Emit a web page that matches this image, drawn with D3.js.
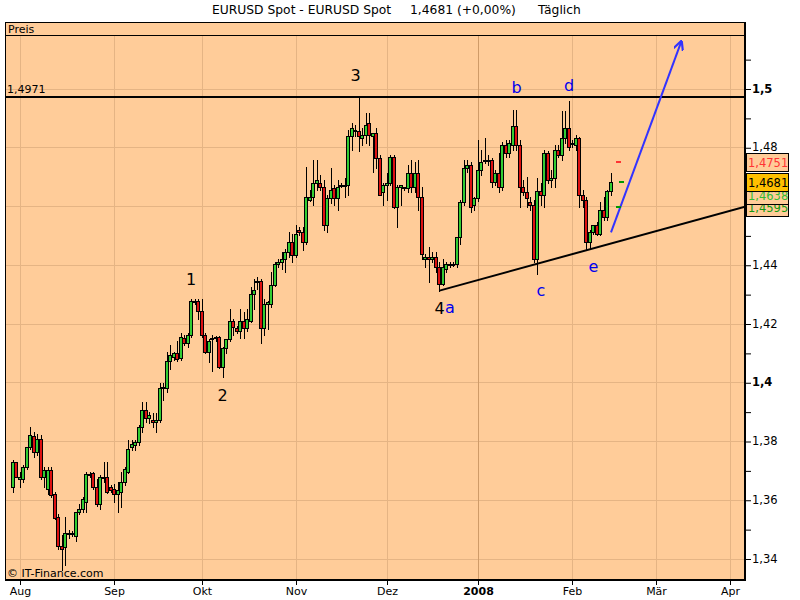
<!DOCTYPE html>
<html><head><meta charset="utf-8">
<script src="https://cdn.jsdelivr.net/npm/d3@7"></script>
<style>body{margin:0;background:#fff}text{font-family:"DejaVu Sans",sans-serif}</style>
</head><body><svg id="c" width="800" height="600"></svg>
<script>
// ---------- data ----------
const firstSession = "2007-07-30";
const sundaySessionsUntil = "2008-02-17";
const lastSession = "2008-04-30";
const xDomain = [-2.143, 209.286];
const openP = [
1.3642,1.3727,1.3672,1.3672,1.3710,1.3781,1.3818,1.3764,1.3808,1.3676,
1.3635,1.3700,1.3618,1.3540,1.3441,1.3438,1.3486,1.3482,1.3475,1.3557,
1.3570,1.3591,1.3683,1.3690,1.3645,1.3584,1.3679,1.3679,1.3642,1.3638,
1.3621,1.3628,1.3659,1.3696,1.3778,1.3785,1.3795,1.3846,1.3904,1.3877,
1.3873,1.3866,1.3873,1.3982,1.3982,1.4074,1.4087,1.4098,1.4084,1.4152,
1.4135,1.4162,1.4275,1.4278,1.4241,1.4162,1.4104,1.4146,1.4149,1.4155,
1.4053,1.4115,1.4146,1.4207,1.4183,1.4173,1.4207,1.4183,1.4207,1.4299,
1.4340,1.4343,1.4183,1.4265,1.4265,1.4330,1.4401,1.4408,1.4421,1.4445,
1.4476,1.4432,1.4517,1.4510,1.4479,1.4622,1.4629,1.4680,1.4677,1.4666,
1.4534,1.4626,1.4660,1.4626,1.4673,1.4670,1.4673,1.4837,1.4857,1.4857,
1.4833,1.4843,1.4881,1.4840,1.4847,1.4765,1.4649,1.4670,1.4680,1.4768,
1.4595,1.4663,1.4660,1.4660,1.4714,1.4666,1.4714,1.4632,1.4418,1.4425,
1.4421,1.4425,1.4391,1.4336,1.4384,1.4401,1.4401,1.4401,1.4493,1.4615,
1.4731,1.4741,1.4605,1.4626,1.4724,1.4755,1.4755,1.4755,1.4683,1.4714,
1.4666,1.4806,1.4782,1.4809,1.4874,1.4806,1.4666,1.4649,1.4615,1.4605,
1.4421,1.4652,1.4636,1.4779,1.4690,1.4697,1.4792,1.4775,1.4833,1.4867,
1.4813,1.4809,1.4833,1.4639,1.4619,1.4479,1.4513,1.4534,1.4506,1.4585,
1.4561,1.4652];
const highP = [
1.3734,1.3730,1.3693,1.3717,1.3781,1.3846,1.3829,1.3825,1.3822,1.3713,
1.3710,1.3710,1.3625,1.3550,1.3479,1.3540,1.3496,1.3492,1.3560,1.3584,
1.3608,1.3693,1.3696,1.3693,1.3669,1.3683,1.3727,1.3730,1.3649,1.3655,
1.3659,1.3693,1.3713,1.3805,1.3802,1.3805,1.3856,1.3934,1.3934,1.3900,
1.3897,1.3897,1.3999,1.3999,1.4104,1.4128,1.4104,1.4139,1.4169,1.4162,
1.4169,1.4282,1.4282,1.4282,1.4282,1.4169,1.4146,1.4162,1.4159,1.4159,
1.4121,1.4146,1.4248,1.4214,1.4190,1.4251,1.4238,1.4248,1.4323,1.4353,
1.4360,1.4350,1.4282,1.4275,1.4374,1.4408,1.4418,1.4445,1.4452,1.4510,
1.4503,1.4534,1.4530,1.4527,1.4734,1.4656,1.4758,1.4758,1.4704,1.4690,
1.4639,1.4731,1.4673,1.4690,1.4680,1.4694,1.4860,1.4881,1.4877,1.4976,
1.4867,1.4915,1.4915,1.4850,1.4867,1.4775,1.4677,1.4714,1.4775,1.4775,
1.4670,1.4670,1.4666,1.4741,1.4758,1.4751,1.4758,1.4663,1.4435,1.4459,
1.4442,1.4442,1.4411,1.4418,1.4411,1.4411,1.4411,1.4496,1.4622,1.4758,
1.4758,1.4751,1.4629,1.4826,1.4792,1.4830,1.4775,1.4765,1.4724,1.4782,
1.4819,1.4826,1.4826,1.4928,1.4928,1.4826,1.4690,1.4700,1.4632,1.4622,
1.4697,1.4677,1.4792,1.4786,1.4724,1.4806,1.4809,1.4922,1.4922,1.4959,
1.4826,1.4843,1.4836,1.4656,1.4632,1.4520,1.4537,1.4547,1.4615,1.4629,
1.4656,1.4714];
const lowP = [
1.3625,1.3676,1.3645,1.3659,1.3703,1.3774,1.3747,1.3754,1.3669,1.3645,
1.3618,1.3611,1.3533,1.3434,1.3360,1.3377,1.3469,1.3475,1.3458,1.3550,
1.3557,1.3560,1.3676,1.3635,1.3580,1.3567,1.3662,1.3622,1.3625,1.3591,
1.3560,1.3574,1.3649,1.3690,1.3771,1.3768,1.3785,1.3829,1.3863,1.3860,
1.3846,1.3832,1.3866,1.3941,1.3968,1.4046,1.4077,1.4074,1.4077,1.4128,
1.4121,1.4155,1.4265,1.4214,1.4155,1.4101,1.4070,1.4040,1.4142,1.4050,
1.4019,1.4101,1.4139,1.4162,1.4169,1.4152,1.4152,1.4173,1.4204,1.4248,
1.4316,1.4132,1.4162,1.4180,1.4255,1.4327,1.4391,1.4384,1.4377,1.4425,
1.4408,1.4428,1.4500,1.4449,1.4469,1.4616,1.4605,1.4656,1.4656,1.4520,
1.4513,1.4609,1.4605,1.4588,1.4663,1.4629,1.4639,1.4792,1.4837,1.4786,
1.4809,1.4816,1.4809,1.4717,1.4731,1.4636,1.4605,1.4622,1.4673,1.4592,
1.4527,1.4605,1.4653,1.4646,1.4649,1.4646,1.4585,1.4418,1.4391,1.4340,
1.4411,1.4377,1.4309,1.4330,1.4374,1.4394,1.4397,1.4391,1.4469,1.4605,
1.4717,1.4578,1.4588,1.4616,1.4707,1.4748,1.4741,1.4666,1.4673,1.4646,
1.4656,1.4768,1.4768,1.4792,1.4792,1.4595,1.4636,1.4598,1.4588,1.4411,
1.4367,1.4605,1.4598,1.4677,1.4666,1.4666,1.4768,1.4758,1.4816,1.4792,
1.4802,1.4792,1.4595,1.4598,1.4449,1.4452,1.4503,1.4500,1.4500,1.4554,
1.4554,1.4639];
const closeP = [
1.3730,1.3679,1.3679,1.3713,1.3778,1.3822,1.3761,1.3808,1.3676,1.3700,
1.3700,1.3615,1.3537,1.3441,1.3434,1.3486,1.3482,1.3486,1.3557,1.3570,
1.3601,1.3686,1.3686,1.3645,1.3584,1.3679,1.3676,1.3628,1.3632,1.3621,
1.3632,1.3662,1.3703,1.3774,1.3791,1.3795,1.3846,1.3904,1.3880,1.3887,
1.3866,1.3873,1.3982,1.3985,1.4074,1.4094,1.4101,1.4080,1.4155,1.4135,
1.4162,1.4275,1.4278,1.4241,1.4162,1.4104,1.4142,1.4149,1.4155,1.4053,
1.4115,1.4146,1.4207,1.4187,1.4173,1.4207,1.4183,1.4214,1.4299,1.4313,
1.4343,1.4183,1.4265,1.4272,1.4330,1.4401,1.4408,1.4421,1.4445,1.4476,
1.4432,1.4506,1.4510,1.4479,1.4629,1.4629,1.4680,1.4687,1.4663,1.4534,
1.4626,1.4656,1.4626,1.4663,1.4670,1.4673,1.4837,1.4864,1.4860,1.4840,
1.4843,1.4877,1.4843,1.4847,1.4765,1.4639,1.4670,1.4680,1.4768,1.4595,
1.4663,1.4670,1.4663,1.4714,1.4666,1.4714,1.4632,1.4438,1.4425,1.4418,
1.4425,1.4391,1.4336,1.4391,1.4401,1.4404,1.4404,1.4493,1.4615,1.4731,
1.4741,1.4598,1.4626,1.4724,1.4751,1.4758,1.4758,1.4683,1.4714,1.4666,
1.4806,1.4782,1.4813,1.4874,1.4809,1.4666,1.4649,1.4626,1.4605,1.4421,
1.4652,1.4636,1.4779,1.4690,1.4697,1.4792,1.4775,1.4833,1.4867,1.4802,
1.4816,1.4833,1.4639,1.4622,1.4479,1.4513,1.4534,1.4506,1.4588,1.4561,
1.4652,1.4681];
const monthStarts = ["2007-08","2007-09","2007-10","2007-11","2007-12","2008-01","2008-02","2008-03","2008-04"];
const monthLabels = ["Aug","Sep","Okt","Nov","Dez","2008","Feb","Mär","Apr"];
const boldMonthLabels = ["2008"];
const yLabelValues = [1.34,1.36,1.38,1.40,1.42,1.44,1.46,1.48,1.50];
const boldYLabels = [1.40,1.50];
const minorTickRange = [134, 151]; // hundredths
const resistance = 1.4971;
const resistanceLabel = "1,4971";
const trendPoints = [{date:"2007-12-19", v:1.4312},{date:"2008-02-08", v:1.4456}];
const arrowPoints = [{date:"2008-02-14", v:1.4510},{date:"2008-03-12", v:1.5157}];
const waveLabels = [
  {t:"1", date:"2007-09-27", v:1.4350, c:"#000"},
  {t:"2", date:"2007-10-08", v:1.3955, c:"#000"},
  {t:"3", date:"2007-11-21", v:1.5044, c:"#000"},
  {t:"4", date:"2007-12-19", v:1.4250, c:"#000"},
  {t:"a", date:"2007-12-23", v:1.4255, c:"#0000ee"},
  {t:"b", date:"2008-01-14", v:1.5003, c:"#0000ee"},
  {t:"c", date:"2008-01-22", v:1.4312, c:"#0000ee"},
  {t:"d", date:"2008-01-31", v:1.5010, c:"#0000ee"},
  {t:"e", date:"2008-02-08", v:1.4394, c:"#0000ee"}
];
const levelMarks = [
  {date:"2008-02-17", v:1.4751, c:"#ff3333"},
  {date:"2008-02-18", v:1.4681, c:"#009900"},
  {date:"2008-02-17", v:1.4595, c:"#009900"}
];
const priceTags = [
  {v:1.4751, t:"1,4751", c:"#ff3333", f:"#ffcc99"},
  {v:1.4595, t:"1,4595", c:"#119911", f:"#ffcc99"},
  {v:1.4638, t:"1,4638", c:"#33bb33", f:"#ffcc99"},
  {v:1.4681, t:"1,4681", c:"#000000", f:"#ffc000"}
];
const titleParts = [
  {t:"EURUSD Spot - EURUSD Spot", x:212},
  {t:"1,4681 (+0,00%)", x:410},
  {t:"Täglich", x:538}
];

// ---------- layout ----------
const P = {left:5, right:745, top:22, head:35, bottom:579};
const BG = "#ffcc99", GRID = "#e5b484", GREEN = "#33cc33", RED = "#dd1111";

const parse = d3.timeParse("%Y-%m-%d"), fmt = d3.timeFormat("%Y-%m-%d");
const sessions = [];
for (let d = parse(firstSession); d <= parse(lastSession); d = d3.timeDay.offset(d, 1)) {
  const wd = d.getDay();
  if (wd === 6) continue;
  if (wd === 0 && d > parse(sundaySessionsUntil)) continue;
  sessions.push(d);
}
const idxOf = new Map(sessions.map((d, i) => [fmt(d), i]));
const x = d3.scaleLinear().domain(xDomain).range([P.left, P.right]);
const y = d3.scaleLinear().domain([1.34, 1.50]).range([558.5, 88.5]);
const xd = s => x(idxOf.get(s));

const candles = openP.map((o, i) => ({i, o, h: highP[i], l: lowP[i], c: closeP[i]}));

const svg = d3.select("#c");
svg.append("rect").attr("width", 800).attr("height", 600).attr("fill", "#fff");
svg.append("defs").append("clipPath").attr("id", "clip")
  .append("rect").attr("x", P.left).attr("y", P.head).attr("width", P.right - P.left).attr("height", P.bottom - P.head);

// title
svg.append("g").selectAll("text").data(titleParts).join("text")
  .attr("x", d => d.x).attr("y", 14).attr("font-size", 12.3).attr("fill", "#000").text(d => d.t);

// plot background
svg.append("rect").attr("x", P.left + 0.5).attr("y", P.top + 0.5)
  .attr("width", P.right - P.left).attr("height", P.bottom - P.top)
  .attr("fill", BG).attr("stroke", "#000");
svg.append("line").attr("x1", P.left).attr("x2", P.right).attr("y1", P.head + 0.5).attr("y2", P.head + 0.5).attr("stroke", "#000");
svg.append("text").attr("x", 8).attr("y", 32.5).attr("font-size", 11).text("Preis");

// grids
const monthIdx = monthStarts.map(m => sessions.findIndex(d => fmt(d).startsWith(m)));
const grid = svg.append("g");
grid.selectAll("line.h").data(yLabelValues).join("line").attr("class", "h")
  .attr("x1", P.left + 1).attr("x2", P.right)
  .attr("y1", d => Math.round(y(d)) + 0.5).attr("y2", d => Math.round(y(d)) + 0.5)
  .attr("stroke", GRID);
grid.selectAll("line.v").data(monthIdx).join("line").attr("class", "v")
  .attr("x1", d => Math.round(x(d)) + 0.5).attr("x2", d => Math.round(x(d)) + 0.5)
  .attr("y1", P.head + 1).attr("y2", P.bottom)
  .attr("stroke", (d, i) => boldMonthLabels.includes(monthLabels[i]) ? "#cf9b68" : GRID);

// resistance line
svg.append("line").attr("x1", P.left).attr("x2", P.right)
  .attr("y1", Math.round(y(resistance))).attr("y2", Math.round(y(resistance)))
  .attr("stroke", "#000").attr("stroke-width", 2);
svg.append("text").attr("x", 7).attr("y", Math.round(y(resistance)) - 4).attr("font-size", 11).text(resistanceLabel);

// candles
const cg = svg.append("g").attr("clip-path", "url(#clip)");
cg.selectAll("line.wick").data(candles).join("line").attr("class", "wick")
  .attr("x1", d => Math.round(x(d.i)) + 0.5).attr("x2", d => Math.round(x(d.i)) + 0.5)
  .attr("y1", d => Math.round(y(d.h))).attr("y2", d => Math.round(y(d.l)) + 1)
  .attr("stroke", "#000");
cg.selectAll("rect.body").data(candles).join("rect").attr("class", "body")
  .attr("x", d => Math.round(x(d.i)) - 1.5)
  .attr("y", d => Math.round(y(Math.max(d.o, d.c))) + 0.5)
  .attr("width", 3)
  .attr("height", d => Math.max(Math.round(y(Math.min(d.o, d.c))) - Math.round(y(Math.max(d.o, d.c))), 1))
  .attr("fill", d => d.c >= d.o ? GREEN : RED).attr("stroke", "#000");

// trend line extended to right edge
const t0 = trendPoints[0], t1 = trendPoints[1];
const slope = (t1.v - t0.v) / (idxOf.get(t1.date) - idxOf.get(t0.date));
const xEnd = xDomain[1];
const vEnd = t0.v + slope * (xEnd - idxOf.get(t0.date));
cg.append("line").attr("x1", xd(t0.date)).attr("y1", y(t0.v)).attr("x2", x(xEnd)).attr("y2", y(vEnd))
  .attr("stroke", "#000").attr("stroke-width", 2);

// blue arrow
const defs = svg.select("defs");
defs.append("marker").attr("id", "ah").attr("viewBox", "0 0 10 10").attr("refX", 8).attr("refY", 5)
  .attr("markerWidth", 5).attr("markerHeight", 5).attr("orient", "auto")
  .append("path").attr("d", "M0,0 L10,5 L0,10").attr("fill", "none").attr("stroke", "#3333ff").attr("stroke-width", 2.2);
svg.append("line").attr("x1", xd(arrowPoints[0].date)).attr("y1", y(arrowPoints[0].v))
  .attr("x2", xd(arrowPoints[1].date)).attr("y2", y(arrowPoints[1].v))
  .attr("stroke", "#3333ff").attr("stroke-width", 2).attr("marker-end", "url(#ah)");

// level marks
svg.selectAll("rect.mark").data(levelMarks).join("rect").attr("class", "mark")
  .attr("x", d => Math.round(xd(d.date)) - 2).attr("y", d => Math.round(y(d.v)) - 1)
  .attr("width", 5).attr("height", 2).attr("fill", d => d.c);

// wave labels
svg.selectAll("text.wave").data(waveLabels).join("text").attr("class", "wave")
  .attr("x", d => xd(d.date)).attr("y", d => y(d.v))
  .attr("text-anchor", "middle").attr("dominant-baseline", "central")
  .attr("font-size", 16).attr("fill", d => d.c).text(d => d.t);

// borders: thick right and bottom
svg.append("line").attr("x1", P.right).attr("x2", P.right).attr("y1", P.top).attr("y2", P.bottom + 2)
  .attr("stroke", "#000").attr("stroke-width", 2);
svg.append("line").attr("x1", P.left).attr("x2", P.right + 1).attr("y1", P.bottom + 1).attr("y2", P.bottom + 1)
  .attr("stroke", "#000").attr("stroke-width", 2);

// y axis
const minor = d3.range(minorTickRange[0], minorTickRange[1] + 1).map(k => k / 100);
const yAxis = d3.axisRight(y).tickValues(minor).tickSize(6).tickPadding(1)
  .tickFormat(v => yLabelValues.includes(v) ? String(+v.toFixed(2)).replace(".", ",") : "");
const ya = svg.append("g").attr("transform", `translate(${P.right},0)`).call(yAxis);
ya.select(".domain").remove();
ya.selectAll(".tick line").attr("stroke", "#000").attr("transform", "translate(0,0.5)");
ya.selectAll(".tick text").attr("font-size", 11.5).attr("fill", "#000").attr("font-family", "DejaVu Sans")
  .attr("font-weight", v => boldYLabels.includes(v) ? "bold" : "normal");

// x axis
const xAxis = d3.axisBottom(x).tickValues(monthIdx).tickSize(4).tickPadding(2)
  .tickFormat((d, i) => monthLabels[i]);
const xa = svg.append("g").attr("transform", `translate(0,${P.bottom + 2})`).call(xAxis);
xa.select(".domain").remove();
xa.selectAll(".tick").attr("transform", d => `translate(${Math.round(x(d)) + 0.5},0)`);
xa.selectAll(".tick line").attr("stroke", "#000");
xa.selectAll(".tick text").attr("font-size", 11).attr("fill", "#000").attr("font-family", "DejaVu Sans")
  .attr("font-weight", (d, i) => boldMonthLabels.includes(monthLabels[i]) ? "bold" : "normal");

// price tags
const tg = svg.append("g").selectAll("g").data(priceTags).join("g")
  .attr("transform", d => `translate(746,${Math.round(y(d.v)) - 9})`);
tg.append("rect").attr("x", 0.5).attr("y", 0.5).attr("width", 42).attr("height", 18)
  .attr("fill", d => d.f).attr("stroke", "#000");
tg.append("text").attr("x", 2).attr("y", 13.5).attr("font-size", 11.5).attr("fill", d => d.c).text(d => d.t);

// copyright
svg.append("text").attr("x", 7).attr("y", 577).attr("font-size", 11).text("© IT-Finance.com");
</script></body></html>
